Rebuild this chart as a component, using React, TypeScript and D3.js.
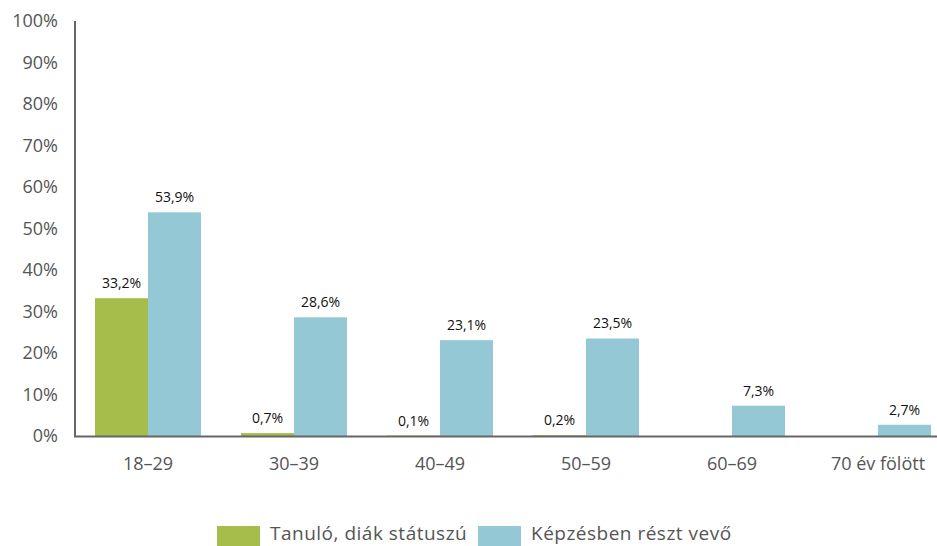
import React from "react";
import * as d3 from "d3";

const categories = ["18–29", "30–39", "40–49", "50–59", "60–69", "70 év fölött"];
const seriesNames = ["Tanuló, diák státuszú", "Képzésben részt vevő"];
const greenValues: (number | null)[] = [33.2, 0.7, 0.1, 0.2, null, null];
const blueValues: (number | null)[] = [53.9, 28.6, 23.1, 23.5, 7.3, 2.7];
const yTicks = [0, 10, 20, 30, 40, 50, 60, 70, 80, 90, 100];
const colors = ["#a6bc4b", "#95c8d5"];

const W = 937;
const H = 546;
const font = "'Open Sans', 'Noto Sans', sans-serif";

export default function App() {
  const x0 = d3.scaleBand<string>().domain(categories).range([75, 951]).paddingInner(0.274).paddingOuter(0.137);
  const x1 = d3.scaleBand<string>().domain(["0", "1"]).range([0, x0.bandwidth()]);
  const y = d3.scaleLinear().domain([0, 100]).range([436, 21]);
  const series = [greenValues, blueValues];
  const fmt = (v: number) => v.toFixed(1).replace(".", ",") + "%";

  return (
    <svg width={W} height={H} style={{ position: "absolute", left: 0, top: 0 }} fontFamily={font}>
      {yTicks.map((t) => (
        <text key={t} x={58} y={y(t)} dy="0.35em" textAnchor="end" fontSize={18} fill="#555">
          {t}%
        </text>
      ))}
      {categories.map((c, i) => (
        <g key={c}>
          {series.map((s, si) => {
            const v = s[i];
            if (v == null) return null;
            const bx = x0(c)! + x1(String(si))!;
            const bw = x1.bandwidth();
            return (
              <g key={si}>
                <rect x={bx} y={y(v)} width={bw} height={y(0) - y(v)} fill={colors[si]} />
                <text x={bx + bw / 2} y={y(v) - 10} textAnchor="middle" fontSize={14} fill="#111">
                  {fmt(v)}
                </text>
              </g>
            );
          })}
          <text x={x0(c)! + x0.bandwidth() / 2} y={470} textAnchor="middle" fontSize={18} fill="#555">
            {c}
          </text>
        </g>
      ))}
      <line x1={75} x2={75} y1={21} y2={437} stroke="#666" strokeWidth={2} />
      <line x1={74} x2={937} y1={436.5} y2={436.5} stroke="#666" strokeWidth={2} />
      {seriesNames.map((n, i) => {
        const lx = i === 0 ? 217 : 478;
        return (
          <g key={n}>
            <rect x={lx} y={526} width={43} height={22} fill={colors[i]} />
            <text x={lx + 53} y={540} fontSize={19} letterSpacing={0.5} fill="#555">
              {n}
            </text>
          </g>
        );
      })}
    </svg>
  );
}
